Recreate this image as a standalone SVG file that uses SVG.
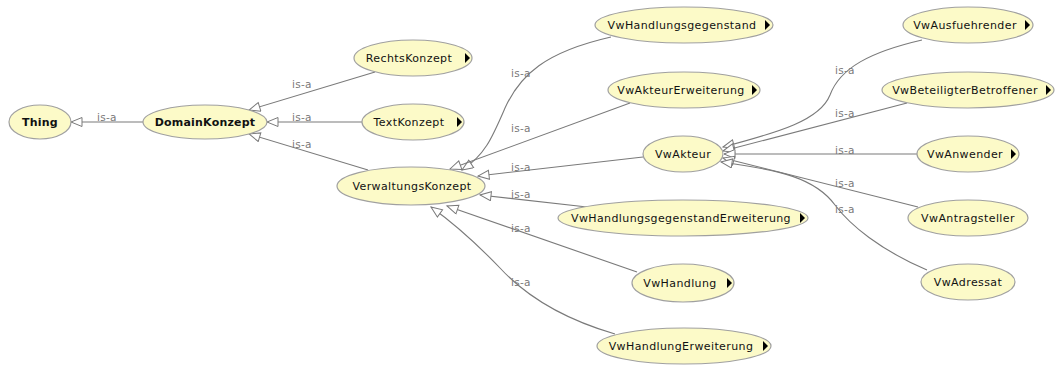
<svg xmlns="http://www.w3.org/2000/svg" width="1056" height="365" viewBox="0 0 1056 365">
  <style>
    .node ellipse { fill: #fcfac8; stroke: #a0a0a0; stroke-width: 1.2; }
    .node text { font-family: "DejaVu Sans", "Liberation Sans", sans-serif; font-size: 11px; fill: #111; text-anchor: middle; letter-spacing: 0.4px; }
    .node text.b { font-weight: bold; letter-spacing: 0.2px; }
    .node .more { fill: #000; }
    .edges path { fill: none; stroke: #7a7a7a; stroke-width: 1.1; marker-end: url(#isa); }
    .edges text { font-family: "DejaVu Sans", "Liberation Sans", sans-serif; font-size: 10.5px; fill: #7a7a7a; letter-spacing: 0.3px; }
  </style>
  <defs>
    <marker id="isa" markerUnits="userSpaceOnUse" markerWidth="14" markerHeight="12" refX="12" refY="5" orient="auto">
      <path d="M1,0.5 L12,5 L1,9.5 Z" fill="#fff" stroke="#7a7a7a" stroke-width="1"/>
    </marker>
  </defs>
  <rect width="1056" height="365" fill="#fff"/>

  <!-- subclass (is-a) connectors -->
  <g id="edges" class="edges">
    <path d="M143,122 L71,122"/>
    <text x="97" y="121">is-a</text>

    <path d="M375,72 L249,110"/>
    <text x="292" y="88">is-a</text>
    <path d="M362,122 L267,122"/>
    <text x="292" y="121">is-a</text>
    <path d="M368,170 L249,134"/>
    <text x="292" y="148">is-a</text>

    <path d="M611,37 C545,52 520,75 505,108 C492,138 485,155 462,170"/>
    <text x="511" y="77">is-a</text>
    <path d="M630,103 L450,169"/>
    <text x="511" y="132">is-a</text>
    <path d="M643,157 L478,176"/>
    <text x="511" y="171">is-a</text>
    <path d="M587,207 L480,195"/>
    <text x="511" y="198">is-a</text>
    <path d="M637,272 L447,206"/>
    <text x="511" y="232">is-a</text>
    <path d="M615,334 C560,318 525,295 500,268 C475,242 452,222 431,207"/>
    <text x="511" y="286">is-a</text>

    <path d="M922,40 C870,52 840,68 830,95 C820,120 780,132 723,147"/>
    <text x="835" y="74">is-a</text>
    <path d="M907,103 L723,151"/>
    <text x="835" y="117">is-a</text>
    <path d="M917,154 L724,154"/>
    <text x="835" y="154">is-a</text>
    <path d="M918,207 L723,158"/>
    <text x="835" y="187">is-a</text>
    <path d="M927,270 C880,250 850,225 835,205 C815,178 780,170 721,162"/>
    <text x="835" y="213">is-a</text>
  </g>

  <!-- classes -->
  <g id="Thing" class="node">
    <ellipse cx="40" cy="122" rx="31" ry="17"/>
    <text class="b" x="40" y="126">Thing</text>
  </g>
  <g id="DomainKonzept" class="node">
    <ellipse cx="205" cy="122" rx="62" ry="17"/>
    <text class="b" x="205" y="126">DomainKonzept</text>
  </g>
  <g id="RechtsKonzept" class="node">
    <ellipse cx="413" cy="58" rx="59" ry="18"/>
    <text x="409" y="62">RechtsKonzept</text>
    <path class="more" d="M465,53 L470,58 L465,63 Z"/>
  </g>
  <g id="TextKonzept" class="node">
    <ellipse cx="413" cy="122" rx="51" ry="18"/>
    <text x="409" y="126">TextKonzept</text>
    <path class="more" d="M457,117 L462,122 L457,127 Z"/>
  </g>
  <g id="VerwaltungsKonzept" class="node">
    <ellipse cx="411" cy="186" rx="74" ry="19"/>
    <text x="412" y="190">VerwaltungsKonzept</text>
  </g>
  <g id="VwHandlungsgegenstand" class="node">
    <ellipse cx="684" cy="25" rx="89" ry="18"/>
    <text x="682" y="29">VwHandlungsgegenstand</text>
    <path class="more" d="M765,20 L770,25 L765,30 Z"/>
  </g>
  <g id="VwAkteurErweiterung" class="node">
    <ellipse cx="684" cy="90" rx="76" ry="18"/>
    <text x="681" y="94">VwAkteurErweiterung</text>
    <path class="more" d="M752,85 L757,90 L752,95 Z"/>
  </g>
  <g id="VwAkteur" class="node">
    <ellipse cx="683" cy="154" rx="40" ry="18"/>
    <text x="683" y="158">VwAkteur</text>
  </g>
  <g id="VwHandlungsgegenstandErweiterung" class="node">
    <ellipse cx="683" cy="218" rx="125" ry="18"/>
    <text x="681" y="222">VwHandlungsgegenstandErweiterung</text>
    <path class="more" d="M800,213 L805,218 L800,223 Z"/>
  </g>
  <g id="VwHandlung" class="node">
    <ellipse cx="683" cy="283" rx="51" ry="19"/>
    <text x="680" y="287">VwHandlung</text>
    <path class="more" d="M727,278 L732,283 L727,288 Z"/>
  </g>
  <g id="VwHandlungErweiterung" class="node">
    <ellipse cx="684" cy="346" rx="87" ry="18"/>
    <text x="681" y="350">VwHandlungErweiterung</text>
    <path class="more" d="M763,341 L768,346 L763,351 Z"/>
  </g>
  <g id="VwAusfuehrender" class="node">
    <ellipse cx="968" cy="25" rx="65" ry="18"/>
    <text x="965" y="29">VwAusfuehrender</text>
    <path class="more" d="M1025,20 L1030,25 L1025,30 Z"/>
  </g>
  <g id="VwBeteiligterBetroffener" class="node">
    <ellipse cx="968" cy="90" rx="86" ry="18"/>
    <text x="965" y="94">VwBeteiligterBetroffener</text>
    <path class="more" d="M1046,85 L1051,90 L1046,95 Z"/>
  </g>
  <g id="VwAnwender" class="node">
    <ellipse cx="968" cy="154" rx="51" ry="18"/>
    <text x="965" y="158">VwAnwender</text>
    <path class="more" d="M1011,149 L1016,154 L1011,159 Z"/>
  </g>
  <g id="VwAntragsteller" class="node">
    <ellipse cx="968" cy="218" rx="60" ry="18"/>
    <text x="968" y="222">VwAntragsteller</text>
  </g>
  <g id="VwAdressat" class="node">
    <ellipse cx="968" cy="282" rx="47" ry="18"/>
    <text x="968" y="286">VwAdressat</text>
  </g>
</svg>
